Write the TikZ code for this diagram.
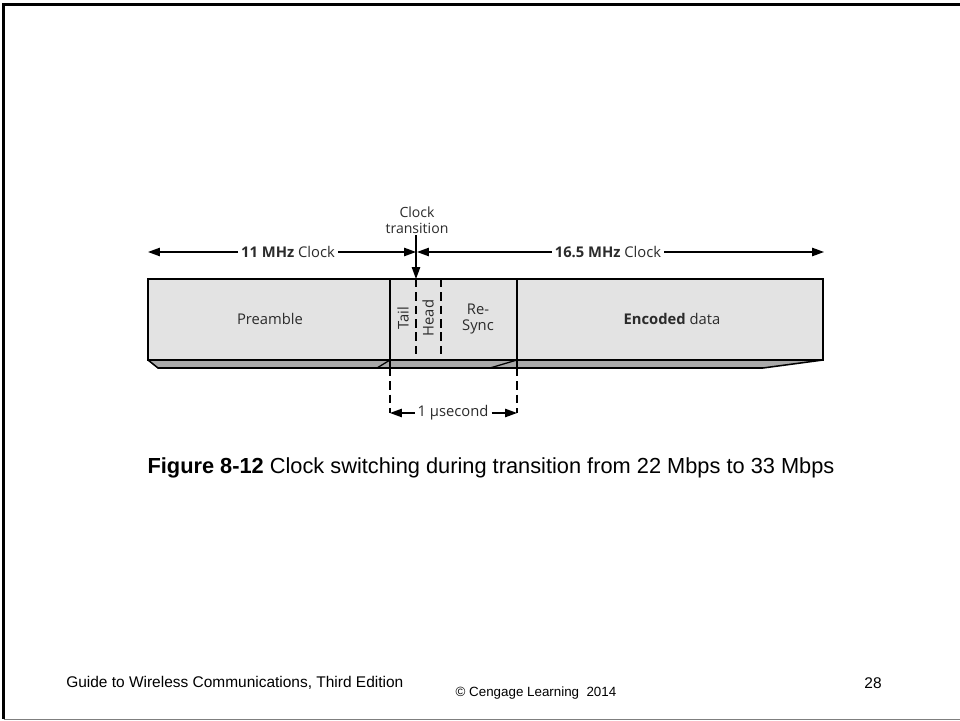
\documentclass[tikz,border=0pt]{standalone}
\usepackage{fontspec}
\setmainfont{Liberation Sans}
\newfontfamily\figfont{Open Sans}
\usetikzlibrary{arrows.meta, positioning, calc}
\definecolor{cFace}{HTML}{E3E3E3}
\definecolor{cSide}{HTML}{A9A9A9}
\definecolor{cInk}{HTML}{2B2B2B}
\definecolor{cRule}{HTML}{7F7F7F}
\tikzset{
  segface/.style={draw=black, fill=cFace, line width=1.1pt},
  segside/.style={draw=black, fill=cSide, line width=1.1pt},
  seglabel/.style={font=\figfont\fontsize{10.5}{12}\selectfont, text=cInk,
    align=center, inner sep=1pt},
  dimlabel/.style={font=\figfont\fontsize{10.5}{12}\selectfont, text=cInk,
    fill=white, inner sep=2pt},
  splitline/.style={line width=1.4pt, dash pattern=on 6pt off 3.5pt},
  arw/.style={-{Triangle[length=8.5pt, width=6pt]}, line width=0.9pt},
  slidetext/.style={font=\fontsize{#1}{#1}\selectfont, text=black, inner sep=0pt},
}

\begin{document}
\begin{tikzpicture}[x=0.025cm, y=-0.025cm]
  \useasboundingbox (0,0) rectangle (960,721);

  % slide frame
  \draw[line width=2.2pt] (960,4.5) -- (3.5,4.5) -- (3.5,719);
  \draw[cRule, line width=1.2pt] (3.5,719.5) -- (960,719.5);

  % bar: bottom bevel, then front face
  \fill[cSide] (148,360) -- (158,368) -- (763,368) -- (823,360) -- cycle;
  \draw[line width=1.1pt] (148,360) -- (158,368) -- (763,368) -- (823,360);
  \draw[segface] (148,279) rectangle (823,360);
  \draw[line width=1.1pt] (390,279) -- (390,368);
  \draw[line width=1.1pt] (517,279) -- (517,368);
  \draw[line width=0.9pt] (377,368) -- (390,360);
  \draw[line width=0.9pt] (490,368) -- (517,360);
  \draw[splitline] (416,279) -- (416,360);
  \draw[splitline] (441,279) -- (441,360);

  % segment labels
  \node[seglabel] (pre) at (270,319) {Preamble};
  \node[seglabel, rotate=90] (tail) at (403,318) {Tail};
  \node[seglabel, rotate=90] (head) at (428,318) {Head};
  \node[seglabel] (sync) at (478,319) {Re-\\Sync};
  \node[seglabel] (enc) at (672,319) {\textbf{Encoded} data};

  % clock ranges
  \coordinate (lftEnd) at (148,252);
  \coordinate (midL) at (416,252);
  \coordinate (midR) at (417,252);
  \coordinate (rgtEnd) at (824,252);
  \node[dimlabel] (clkA) at (288,252) {\textbf{11 MHz} Clock};
  \node[dimlabel] (clkB) at (608,252) {\textbf{16.5 MHz} Clock};
  \draw[arw] (clkA.west) -- (lftEnd);
  \draw[arw] (clkA.east) -- (midL);
  \draw[arw] (clkB.west) -- (midR);
  \draw[arw] (clkB.east) -- (rgtEnd);

  % transition marker
  \node[seglabel, font=\figfont\fontsize{10}{11.5}\selectfont] (trans) at (417,220) {Clock\\transition};
  \coordinate (barTop) at (416,279);
  \draw[arw] (trans.south -| barTop) -- (barTop);

  % 1 usecond span
  \coordinate (spanL) at (390,413);
  \coordinate (spanR) at (517,413);
  \draw[splitline] (390,368) -- (spanL);
  \draw[splitline] (517,368) -- (spanR);
  \node[dimlabel] (usec) at (453,413) {1 µsecond};
  \draw[arw] (usec.west) -- (spanL);
  \draw[arw] (usec.east) -- (spanR);

  % caption and footer
  \node[slidetext=15.5] (cap) at (491,468)
    {\textbf{Figure 8-12} Clock switching during transition from 22 Mbps to 33 Mbps};
  \node[slidetext=11, anchor=west] (guide) at (66,683)
    {Guide to Wireless Communications, Third Edition};
  \node[slidetext=9.5] (copy) at (536,693) {© Cengage Learning\ \ 2014};
  \node[slidetext=11] (page) at (873,683) {28};
\end{tikzpicture}
\end{document}
